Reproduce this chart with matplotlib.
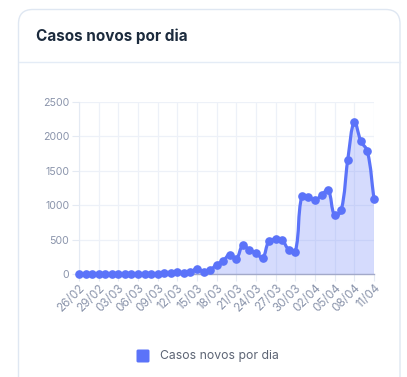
import matplotlib
matplotlib.use("Agg")
import matplotlib.pyplot as plt
import numpy as np
from matplotlib.path import Path
from matplotlib.patches import PathPatch, FancyBboxPatch

# data: new cases per day, 26/02 -> 11/04
dates = ["26/02", "27/02", "28/02", "29/02", "01/03", "02/03", "03/03", "04/03",
         "05/03", "06/03", "07/03", "08/03", "09/03", "10/03", "11/03", "12/03",
         "13/03", "14/03", "15/03", "16/03", "17/03", "18/03", "19/03", "20/03",
         "21/03", "22/03", "23/03", "24/03", "25/03", "26/03", "27/03", "28/03",
         "29/03", "30/03", "31/03", "01/04", "02/04", "03/04", "04/04", "05/04",
         "06/04", "07/04", "08/04", "09/04", "10/04", "11/04"]
cases = [1, 0, 0, 1, 0, 0, 0, 1, 4, 5, 6, 6, 0, 9, 18, 25, 21, 23, 79, 34,
         57, 137, 193, 283, 224, 418, 345, 310, 232, 482, 502, 487, 352, 323,
         1138, 1119, 1074, 1146, 1222, 852, 926, 1661, 2210, 1930, 1781, 1089]
yticks = [0, 500, 1000, 1500, 2000, 2500]
title = "Casos novos por dia"
legend_label = "Casos novos por dia"

LINE = "#5b73f9"
GRID = "#edf1f8"
TXT = "#8a94ab"
FONT = "Inter"

W, H = 407, 377
fig = plt.figure(figsize=(W / 100, H / 100), dpi=100)

def fx(px):
    return px / W

def fy(py):
    return 1 - py / H

# card
card = FancyBboxPatch((fx(18.5), fy(395)), fx(400) - fx(18.5), fy(9.5) - fy(395),
                      boxstyle="round,pad=0,rounding_size=0.035",
                      transform=fig.transFigure, facecolor="white",
                      edgecolor="#dfe7f2", linewidth=1.0, mutation_aspect=W / H,
                      zorder=-10)
fig.patches.append(card)
fig.add_artist(plt.Line2D([fx(18.5), fx(400)], [fy(62), fy(62)],
                          transform=fig.transFigure, color="#e4ecf6", lw=1.0))
fig.text(fx(36), fy(36), title, fontsize=11.0, fontweight="bold",
         color="#1c2b3d", family=FONT, va="center", ha="left")

ax = fig.add_axes([fx(79), fy(274), fx(374) - fx(79), fy(102) - fy(274)])
ax.patch.set_visible(False)
x = np.arange(len(cases))
ax.set_xlim(0, len(cases) - 1)
ax.set_ylim(0, 2500)

# smooth curve (bezier, tension 0.4) built in pixel space
pts = ax.transData.transform(np.column_stack([x, cases]))
tension = 0.4
verts = [pts[0]]
codes = [Path.MOVETO]
cps = []
for i in range(len(pts)):
    p0 = pts[max(i - 1, 0)]
    p1 = pts[i]
    p2 = pts[min(i + 1, len(pts) - 1)]
    d01 = np.hypot(*(p1 - p0))
    d12 = np.hypot(*(p2 - p1))
    s = d01 + d12
    fa = tension * d01 / s if s else 0
    fb = tension * d12 / s if s else 0
    cps.append((p1 - fa * (p2 - p0), p1 + fb * (p2 - p0)))
for i in range(1, len(pts)):
    verts += [cps[i - 1][1], cps[i][0], pts[i]]
    codes += [Path.CURVE4] * 3
inv = ax.transData.inverted()
verts_d = inv.transform(np.array(verts))
curve = Path(verts_d, codes)

fill_verts = np.vstack([verts_d, [[x[-1], 0], [0, 0], [0, 0]]])
fill_codes = codes + [Path.LINETO, Path.LINETO, Path.CLOSEPOLY]
ax.add_patch(PathPatch(Path(fill_verts, fill_codes), facecolor=LINE, alpha=0.25,
                       edgecolor="none", zorder=1))
ax.add_patch(PathPatch(curve, facecolor="none", edgecolor=LINE, lw=2.3,
                       zorder=3, clip_on=False))
ax.plot(x, cases, "o", color=LINE, markersize=5.2, zorder=4, clip_on=False)

ax.set_yticks(yticks)
ax.set_xticks(x[::3])
ax.set_xticklabels(dates[::3], rotation=45, ha="right", va="top",
                   rotation_mode="anchor")
ax.tick_params(axis="both", labelsize=7.6, colors=TXT, length=5, width=0.8,
               pad=2, color="#e4eaf3")
ax.tick_params(axis="x", labelsize=8.4, pad=1)
ax.grid(True, color=GRID, lw=0.9)
ax.set_axisbelow(True)
for side in ["top", "right"]:
    ax.spines[side].set_visible(False)
ax.spines["left"].set_color("#e4eaf3")
ax.spines["bottom"].set_color("#a3a9c9")
ax.spines["bottom"].set_linewidth(1.0)
for lab in ax.get_xticklabels() + ax.get_yticklabels():
    lab.set_family(FONT)

# legend
fig.patches.append(FancyBboxPatch((fx(136.5), fy(362.5)), fx(149.5) - fx(136.5),
                                  fy(349.5) - fy(362.5),
                                  boxstyle="round,pad=0,rounding_size=0.004",
                                  transform=fig.transFigure, facecolor=LINE,
                                  edgecolor="none"))
fig.text(fx(160), fy(356), legend_label, fontsize=8.8, color="#5c6474",
         family=FONT, va="center", ha="left")

fig.savefig("out.png", dpi=100)
